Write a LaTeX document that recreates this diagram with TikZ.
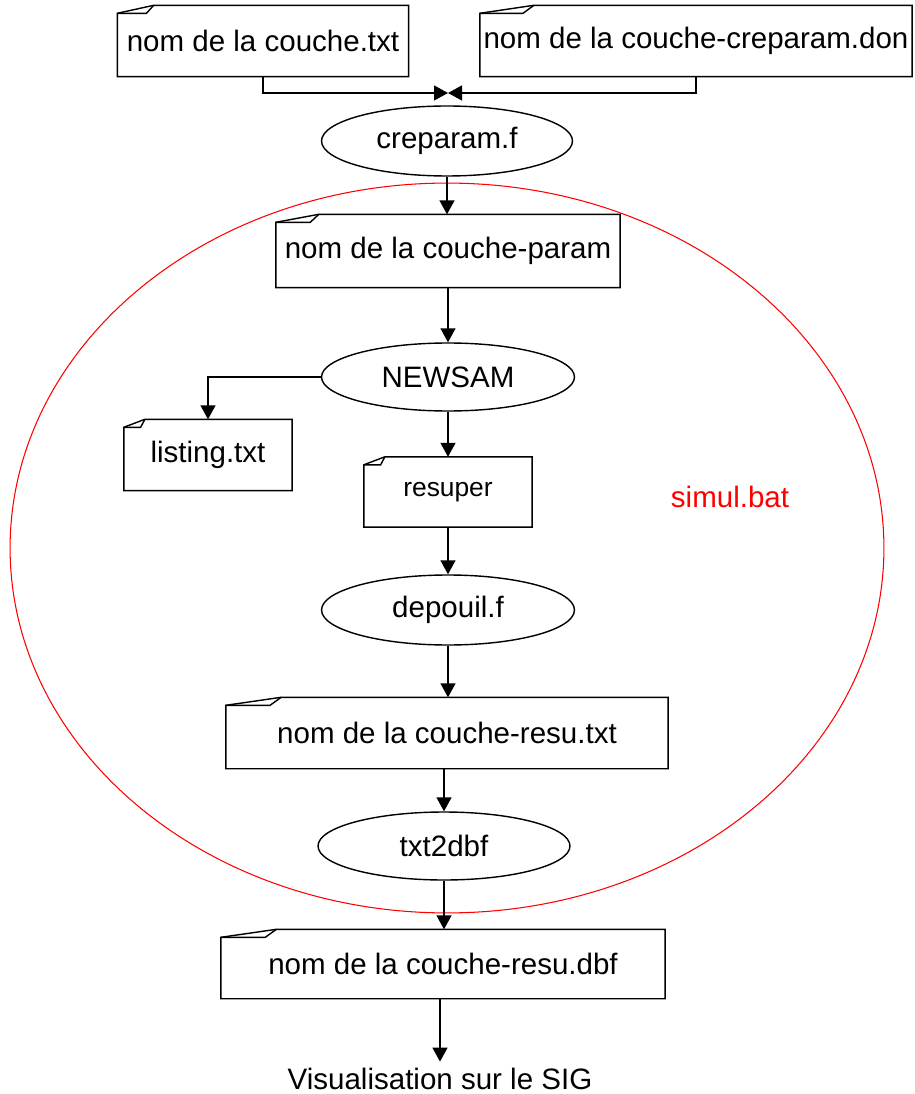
\documentclass[tikz,border=0pt]{standalone}
\usepackage{fontspec}
\setmainfont{Liberation Sans}
\usetikzlibrary{arrows.meta,shapes.geometric,calc}

\begin{document}
\begin{tikzpicture}[x=0.02cm,y=-0.02cm,>={Triangle[length=0.28cm,width=0.3cm]},line width=0.8pt,
        every node/.style={font=\fontsize{16.8}{20}\selectfont},
        doc/.style={rectangle,inner sep=0pt},
        prog/.style={ellipse,draw,inner sep=0pt}]
        \useasboundingbox (0,0) rectangle (914,1094);
        \node [ellipse,draw=red,line width=0.6pt,minimum width=17.48cm,minimum height=14.6cm] (simul) at (447,548) {};
        \node [text=red] (simulbat) at (730,497) {simul.bat};
        \node [doc,minimum width=5.8cm,minimum height=1.4cm] (txtin) at (263,41) {nom de la couche.txt};
        \node [doc,minimum width=8.62cm,minimum height=1.4cm] (donin) at (696,41) {nom de la couche-creparam.don};
        \node [prog,minimum width=5.02cm,minimum height=1.4cm] (creparam) at (447,141) {creparam.f};
        \node [doc,minimum width=6.86cm,minimum height=1.44cm] (param) at (448,251) {nom de la couche-param};
        \node [prog,minimum width=5.06cm,minimum height=1.36cm] (newsam) at (448,377) {NEWSAM};
        \node [doc,minimum width=3.34cm,minimum height=1.4cm] (listing) at (208,455) {listing.txt};
        \node [doc,minimum width=3.34cm,minimum height=1.38cm,font=\fontsize{15}{18}\selectfont] (resuper) at (448,492) {resuper};
        \node [prog,minimum width=5.06cm,minimum height=1.4cm] (depouil) at (448,610) {depouil.f};
        \node [doc,minimum width=8.82cm,minimum height=1.4cm] (resutxt) at (447,733) {nom de la couche-resu.txt};
        \node [prog,minimum width=5.04cm,minimum height=1.36cm] (txt2dbf) at (444,846) {txt2dbf};
        \node [doc,minimum width=8.86cm,minimum height=1.36cm] (resudbf) at (443,964) {nom de la couche-resu.dbf};
        \node (sig) at (440,1079) {Visualisation sur le SIG};
        \foreach \docname in {txtin,donin,param,listing,resuper,resutxt,resudbf} {
            \draw ($(\docname.north west)+(0,8)$) -- ($(\docname.north west)!0.125!(\docname.north east)$) -- (\docname.north east) -- (\docname.south east) -- (\docname.south west) -- cycle;
            \draw ($(\docname.north west)+(0,8)$) -- ($(\docname.north west)!0.1!(\docname.north east)+(0,8)$) -- ($(\docname.north west)!0.125!(\docname.north east)$);
        }
        \coordinate (join) at (448,93);
        \draw [->] (txtin.south) |- (join);
        \draw [->] (donin.south) |- (join);
        \draw [->] (creparam.south) -- (creparam.south |- param.north);
        \draw [->] (param.south) -- (param.south |- newsam.north);
        \draw [->] (newsam.west) -| (listing.north);
        \draw [->] (newsam.south) -- (newsam.south |- resuper.north);
        \draw [->] (resuper.south) -- (resuper.south |- depouil.north);
        \draw [->] (depouil.south) -- (depouil.south |- resutxt.north);
        \draw [->] (txt2dbf.north |- resutxt.south) -- (txt2dbf.north);
        \draw [->] (txt2dbf.south) -- (txt2dbf.south |- resudbf.north);
        \draw [->] (sig.north |- resudbf.south) -- (sig.north);
    \end{tikzpicture}
\end{document}
